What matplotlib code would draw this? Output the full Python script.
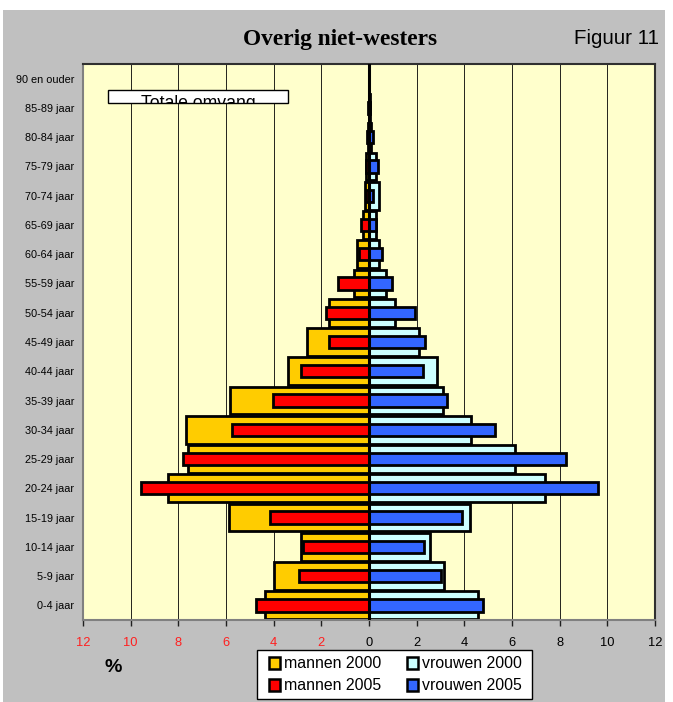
import matplotlib
matplotlib.use("Agg")
import matplotlib.pyplot as plt
from matplotlib.patches import Rectangle
import numpy as np

categories = ["0-4 jaar", "5-9 jaar", "10-14 jaar", "15-19 jaar", "20-24 jaar",
              "25-29 jaar", "30-34 jaar", "35-39 jaar", "40-44 jaar", "45-49 jaar",
              "50-54 jaar", "55-59 jaar", "60-64 jaar", "65-69 jaar", "70-74 jaar",
              "75-79 jaar", "80-84 jaar", "85-89 jaar", "90 en ouder"]
mannen_2000 = [4.35, 3.99, 2.84, 5.87, 8.44, 7.58, 7.69, 5.84, 3.38, 2.62,
               1.67, 0.61, 0.52, 0.27, 0.18, 0.14, 0.05, 0.02, 0.01]
mannen_2005 = [4.74, 2.93, 2.77, 4.17, 9.56, 7.80, 5.75, 4.01, 2.86, 1.67,
               1.81, 1.28, 0.41, 0.32, 0.14, 0.11, 0.09, 0.03, 0.01]
vrouwen_2000 = [4.56, 3.16, 2.57, 4.24, 7.37, 6.11, 4.28, 3.09, 2.87, 2.10,
                1.11, 0.72, 0.43, 0.29, 0.40, 0.29, 0.10, 0.03, 0.01]
vrouwen_2005 = [4.78, 3.02, 2.32, 3.90, 9.59, 8.26, 5.28, 3.27, 2.25, 2.37,
                1.94, 0.95, 0.54, 0.29, 0.18, 0.36, 0.18, 0.04, 0.02]
xticks = [-12, -10, -8, -6, -4, -2, 0, 2, 4, 6, 8, 10, 12]
xticklabels = ["12", "10", "8", "6", "4", "2", "0", "2", "4", "6", "8", "10", "12"]
series_labels = ["mannen 2000", "mannen 2005", "vrouwen 2000", "vrouwen 2005"]
series_colors = ["#FFCC00", "#FF0000", "#CCFFFF", "#3366FF"]

W, H = 673, 702
fig = plt.figure(figsize=(W / 100, H / 100), dpi=100)
fig.patch.set_facecolor("white")


def fx(px):
    return px / W


def fy(py):
    return 1 - py / H


fig.patches.append(Rectangle((fx(3), fy(702)), (665 - 3) / W, (702 - 10) / H,
                             transform=fig.transFigure, facecolor="#C0C0C0",
                             edgecolor="none", zorder=-10))

ax = fig.add_axes([fx(83), fy(620), (655 - 83) / W, (620 - 64) / H])
ax.set_facecolor("#FFFFCC")
y = np.arange(len(categories))

for xv in range(-12, 13, 2):
    ax.axvline(xv, color="black", lw=0.6, zorder=0.5)

ec = "black"
lw = 2.0
ax.barh(y, -np.array(mannen_2000), height=0.95, color=series_colors[0], edgecolor=ec, linewidth=lw, zorder=2)
ax.barh(y, vrouwen_2000, height=0.95, color=series_colors[2], edgecolor=ec, linewidth=lw, zorder=2)
ax.barh(y, -np.array(mannen_2005), height=0.42, color=series_colors[1], edgecolor=ec, linewidth=lw, zorder=3)
ax.barh(y, vrouwen_2005, height=0.42, color=series_colors[3], edgecolor=ec, linewidth=lw, zorder=3)
ax.axvline(0, color="black", lw=2.2, zorder=4)

ax.set_xlim(-12, 12)
ax.set_ylim(-0.5, len(categories) - 0.5)
ax.set_yticks(y)
ax.set_yticklabels(categories, fontsize=7.8, family="Liberation Sans")
ax.tick_params(axis="y", length=0, pad=6.3)
ax.set_xticks(xticks)
ax.set_xticklabels(xticklabels, fontsize=9.3, family="Liberation Sans")
ax.tick_params(axis="x", length=4, width=1, color="#202020", pad=8)
for lab, v in zip(ax.get_xticklabels(), xticks):
    lab.set_color("#FF2020" if v < 0 else "black")
for s in ["left", "bottom"]:
    ax.spines[s].set_color("#808080")
    ax.spines[s].set_linewidth(1.5)
for s in ["top", "right"]:
    ax.spines[s].set_color("#303030")
    ax.spines[s].set_linewidth(1.5)

# "Totale omvang" box (clipped text)
box = Rectangle((fx(108), fy(103)), (288 - 108) / W, (103 - 90) / H,
                transform=fig.transFigure, facecolor="white", edgecolor="black",
                linewidth=1, zorder=10)
fig.patches.append(box)
t = fig.text(fx(198.5), fy(95), "Totale omvang", ha="center", va="top",
             fontsize=12.7, family="Liberation Sans", zorder=11)
t.set_clip_path(box)

fig.text(fx(340), fy(40), "Overig niet-westers", ha="center", va="center",
         fontsize=16.8, fontweight="bold", family="Liberation Serif")
fig.text(fx(659), fy(38), "Figuur 11", ha="right", va="center",
         fontsize=14.8, family="Liberation Sans")
fig.text(fx(113), fy(667), "%", ha="center", va="center",
         fontsize=14, fontweight="bold", family="Liberation Sans")

# legend
fig.patches.append(Rectangle((fx(257), fy(699)), (532 - 257) / W, (699 - 650) / H,
                             transform=fig.transFigure, facecolor="white",
                             edgecolor="black", linewidth=1, zorder=10))
pos = [(269, 663), (269, 685), (407, 663), (407, 685)]
for (px, py), lab, col in zip(pos, series_labels, series_colors):
    fig.patches.append(Rectangle((fx(px), fy(py + 6)), 11 / W, 12 / H,
                                 transform=fig.transFigure, facecolor=col,
                                 edgecolor="black", linewidth=1.8, zorder=11))
    fig.text(fx(px + 15), fy(py + 0.5), lab, ha="left", va="center",
             fontsize=11.4, family="Liberation Sans", zorder=11)

fig.savefig("out.png", dpi=100, facecolor=fig.get_facecolor())
